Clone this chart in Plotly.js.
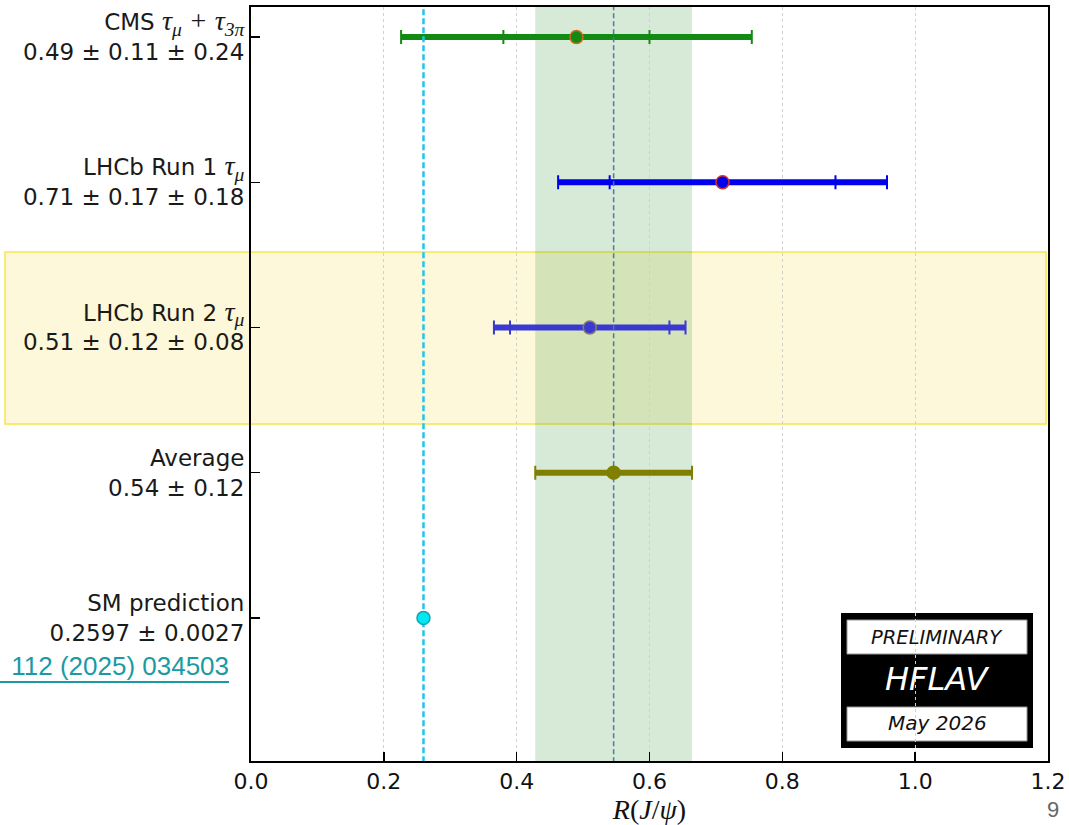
<!DOCTYPE html>
<html>
<head>
<meta charset="utf-8">
<script src="https://cdn.plot.ly/plotly-3.0.1.min.js"></script>
<style>html,body{margin:0;padding:0;background:#fff;}#chart{width:1069px;height:825px;}</style>
</head>
<body>
<div id="chart"></div>
<script>
// ---------- data ----------
const MATH = 'font-family:Liberation Serif, DejaVu Serif, serif;font-style:italic;font-size:28px';
const categories = [
  'CMS <span style="' + MATH + '">τ<sub>μ</sub> + τ<sub>3π</sub></span>',
  'LHCb Run 1 <span style="' + MATH + '">τ<sub>μ</sub></span>',
  'LHCb Run 2 <span style="' + MATH + '">τ<sub>μ</sub></span>',
  'Average',
  'SM prediction'
];
const valueLabels = ['0.49 ± 0.11 ± 0.24', '0.71 ± 0.17 ± 0.18', '0.51 ± 0.12 ± 0.08', '0.54 ± 0.12', '0.2597 ± 0.0027'];
const centralValues = [0.49, 0.71, 0.51, 0.546, 0.2597];
const statErrors = [0.11, 0.17, 0.12, 0.118, 0.0027];
const systErrors = [0.24, 0.18, 0.08, 0, 0];
const rowPositions = [4, 3, 2, 1, 0];
const xTickValues = [0, 0.2, 0.4, 0.6, 0.8, 1.0, 1.2];

// ---------- style ----------
const barColors = ['#138a13', '#0000ee', '#3a3ad2', '#808000', '#00e8f0'];
const edgeColors = ['#d2691e', '#d03030', '#8a7a6a', '#808000', '#1aa0b4'];
const statTicks = [true, true, true, false, false];
const AVG = 3, SM = 4;

const totalErrors = centralValues.map((v, i) => Math.sqrt(statErrors[i] ** 2 + systErrors[i] ** 2));
const yMin = -0.985, yMax = 4.207;

const traces = [];
// thick horizontal bars
centralValues.forEach((v, i) => {
  traces.push({
    type: 'scatter', mode: 'lines', hoverinfo: 'skip', showlegend: false,
    x: [v - totalErrors[i], v + totalErrors[i]], y: [rowPositions[i], rowPositions[i]],
    line: {color: barColors[i], width: 6}
  });
});
// caps at total and stat error ends
centralValues.forEach((v, i) => {
  traces.push({
    type: 'scatter', mode: 'markers', hoverinfo: 'skip', showlegend: false,
    x: [v], y: [rowPositions[i]], marker: {size: 1, opacity: 0},
    error_x: {type: 'data', array: [totalErrors[i]], color: barColors[i], thickness: 2, width: 7}
  });
  if (statTicks[i]) {
    traces.push({
      type: 'scatter', mode: 'markers', hoverinfo: 'skip', showlegend: false,
      x: [v], y: [rowPositions[i]], marker: {size: 1, opacity: 0},
      error_x: {type: 'data', array: [statErrors[i]], color: barColors[i], thickness: 2, width: 7}
    });
  }
});
// vertical dashed lines (SM and average)
traces.push({
  type: 'scatter', mode: 'lines', hoverinfo: 'skip', showlegend: false,
  x: [centralValues[SM], centralValues[SM]], y: [yMin - 1, yMax + 1],
  line: {color: '#22c4ea', width: 2.5, dash: '6px,3px'}
});
traces.push({
  type: 'scatter', mode: 'lines', hoverinfo: 'skip', showlegend: false,
  x: [centralValues[AVG], centralValues[AVG]], y: [yMin - 1, yMax + 1],
  line: {color: '#3f7fae', width: 1.5, dash: '5px,3px'}
});
// markers
centralValues.forEach((v, i) => {
  traces.push({
    type: 'scatter', mode: 'markers', hoverinfo: 'skip', showlegend: false,
    x: [v], y: [rowPositions[i]], cliponaxis: false,
    marker: {size: 13, color: barColors[i], line: {color: edgeColors[i], width: 1.5}}
  });
});

// paper helpers (plot area 251..1048 x, 7..761 y)
const px = X => (X - 251) / 797;
const py = Y => (761 - Y) / 754;

const shapes = [
  // highlighted row (LHCb Run 2)
  {type: 'rect', layer: 'below', xref: 'paper', yref: 'paper', x0: px(5), x1: px(1046), y0: py(424), y1: py(252),
   fillcolor: '#fdf8d9', line: {color: '#f6e64a', width: 1.5}},
  // average band
  {type: 'rect', layer: 'below', xref: 'x', yref: 'paper',
   x0: centralValues[AVG] - statErrors[AVG], x1: centralValues[AVG] + statErrors[AVG], y0: 0, y1: 1,
   fillcolor: 'rgba(40,140,40,0.19)', line: {width: 0}},
  // HFLAV logo
  {type: 'rect', layer: 'below', xref: 'paper', yref: 'paper', x0: px(841), x1: px(1033), y0: py(748), y1: py(613),
   fillcolor: '#000', line: {color: '#000', width: 0}},
  {type: 'rect', layer: 'below', xref: 'paper', yref: 'paper', x0: px(847), x1: px(1027), y0: py(654), y1: py(620),
   fillcolor: '#fff', line: {color: '#999', width: 1}},
  {type: 'rect', layer: 'below', xref: 'paper', yref: 'paper', x0: px(847), x1: px(1027), y0: py(741), y1: py(707),
   fillcolor: '#fff', line: {color: '#999', width: 1}},
  // link underline
  {type: 'line', xref: 'paper', yref: 'paper', x0: px(0), x1: px(229), y0: py(682), y1: py(682),
   line: {color: '#1a9aa3', width: 2}}
];

const ann = (X, Y, text, font, xanchor) => ({
  xref: 'paper', yref: 'paper', x: px(X), y: py(Y), text: text, showarrow: false,
  xanchor: xanchor || 'center', yanchor: 'middle', font: font
});
const annotations = [
  ann(937, 637, '<i>PRELIMINARY</i>', {family: 'DejaVu Sans, sans-serif', size: 19.5, color: '#111'}),
  ann(937, 679, '<i>HFLAV</i>', {family: 'DejaVu Sans, sans-serif', size: 32, color: '#fff'}),
  ann(937, 723, '<i>May 2026</i>', {family: 'DejaVu Sans, sans-serif', size: 20, color: '#111'}),
  ann(231, 666, ' 112 (2025) 034503', {family: 'Liberation Sans, Arial, sans-serif', size: 26, color: '#1a9aa3'}, 'right'),
  ann(1053, 810, '9', {family: 'Liberation Sans, Arial, sans-serif', size: 22, color: '#666'})
];

const layout = {
  width: 1069, height: 825,
  margin: {l: 251, r: 21, t: 7, b: 64},
  paper_bgcolor: '#fff', plot_bgcolor: 'rgba(0,0,0,0)',
  showlegend: false,
  xaxis: {
    range: [0, 1.2], tickvals: xTickValues, ticktext: xTickValues.map(v => v.toFixed(1)),
    ticks: 'inside', ticklen: 9, tickwidth: 1.5, tickcolor: '#000',
    showline: true, linewidth: 2, linecolor: '#000', mirror: true,
    showgrid: true, gridcolor: '#d0d0d0', gridwidth: 1, griddash: 'dot', zeroline: false,
    tickfont: {family: 'DejaVu Sans, sans-serif', size: 22, color: '#111'},
    title: {text: '<i>R</i>(<i>J</i>/<i>ψ</i>)', standoff: 6,
            font: {family: 'Liberation Serif, DejaVu Serif, serif', size: 28, color: '#111'}}
  },
  yaxis: {
    range: [yMin, yMax], tickvals: rowPositions,
    ticktext: categories.map((c, i) => c + '<br>' + valueLabels[i]),
    ticks: 'inside', ticklen: 9, tickwidth: 1.5, tickcolor: '#000',
    showline: true, linewidth: 2, linecolor: '#000', mirror: true,
    showgrid: false, zeroline: false,
    tickfont: {family: 'DejaVu Sans, sans-serif', size: 23, color: '#1a1a1a'}
  },
  shapes: shapes,
  annotations: annotations
};

Plotly.newPlot('chart', traces, layout, {displayModeBar: false, staticPlot: true});
</script>
</body>
</html>
